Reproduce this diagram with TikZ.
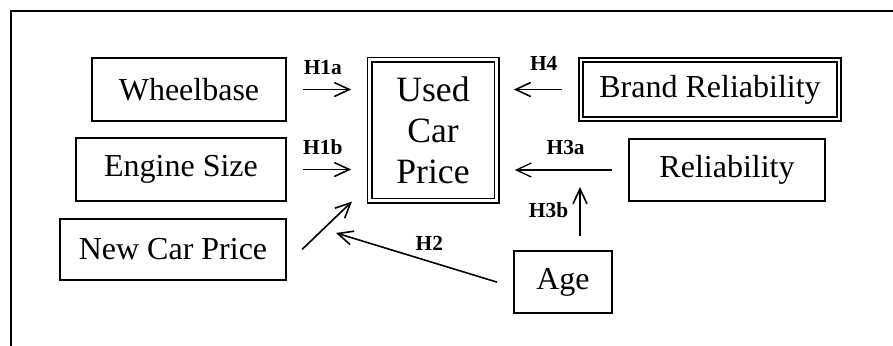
\documentclass[tikz,border=0pt]{standalone}
\usepackage{fontspec}
\setmainfont{Liberation Serif}
\usetikzlibrary{arrows.meta}

\begin{document}
\begin{tikzpicture}[
	x=0.5pt, y=-0.5pt,
	% 方框、双线框、箭头与标签的统一样式
	box/.style={draw, line width=1pt, inner sep=0pt, font=\fontsize{16}{20.5}\selectfont},
	dbox/.style={box, line width=0.8pt, double, double distance=1.4pt},
	arr/.style={-{Straight Barb[length=7.5pt,width=7pt]}, line width=0.8pt},
	lab/.style={inner sep=0pt, font=\fontsize{10.7}{13}\selectfont\bfseries}
	]
	
	% ----- 0. 画布与外框 -----
	\useasboundingbox (0,0) rectangle (893,345);
	\clip (0,0) rectangle (893,345);
	\draw[line width=1pt] (10.5,400) -- (10.5,10.5) -- (950,10.5);
	
	% ----- 1. 左侧变量 -----
	\node[box, minimum width=97pt, minimum height=31.5pt] (wb) at (189,89.5) {Wheelbase};
	\node[box, minimum width=105pt, minimum height=31.5pt] (eng) at (181,169.5) {Engine Size};
	\node[box, minimum width=113pt, minimum height=30.5pt] (npr) at (173,249.5) {New Car Price};
	
	% ----- 2. 中心变量（双线框） -----
	\node[dbox, align=center, font=\fontsize{17.8}{20.5}\selectfont, minimum width=63.5pt, minimum height=70.5pt] (used) at (433,130) {Used\\Car\\Price};
	
	% ----- 3. 右侧变量 -----
	\node[dbox, minimum width=129pt, minimum height=29.5pt] (brand) at (710,89.5) {Brand Reliability};
	\node[box, minimum width=98pt, minimum height=31pt] (rel) at (727,170) {Reliability};
	\node[box, minimum width=49pt, minimum height=31pt] (age) at (563,282) {Age};
	
	% ----- 4. 假设箭头 -----
	% H1a: 轴距 -> 二手车价格
	\draw[arr, shorten <=8pt, shorten >=8.75pt] (wb.east) -- (wb.east -| used.west)
		node[lab, midway, above=7pt, xshift=-2.5pt] {H1a};
	% H1b: 发动机排量 -> 二手车价格
	\draw[arr, shorten <=8pt, shorten >=8.75pt] (eng.east) -- (eng.east -| used.west)
		node[lab, midway, above=7pt, xshift=-2.5pt] {H1b};
	% 新车价格 -> 二手车价格
	\draw[arr] ([xshift=7.5pt]npr.east) -- ++(50,-48);
	% H4: 品牌可靠性 -> 二手车价格
	\draw[arr, shorten <=9pt, shorten >=8.25pt] (brand.west) -- (brand.west -| used.east)
		node[lab, midway, above=9pt, xshift=2.5pt] {H4};
	% H3a: 可靠性 -> 二手车价格
	\draw[arr, line width=0.65pt, shorten <=8pt, shorten >=8.75pt] (rel.west) -- (rel.west -| used.east)
		node[lab, midway, above=7.5pt, xshift=1.5pt] {H3a};
	% H3b: 车龄 -> 可靠性路径
	\draw[arr, shorten <=7pt, shorten >=8.5pt] ([xshift=8.5pt]age.north) -- ([xshift=8.5pt]age.north |- rel.west)
		node[lab, midway, left=5.5pt] {H3b};
	% H2: 车龄 -> 新车价格
	\draw[arr, shorten <=8.35pt, shorten >=25.6pt] ([yshift=-2.5pt]age.west) -- (npr.north east)
		node[lab, pos=0.37, above=5.3pt] {H2};
	
\end{tikzpicture}
\end{document}
